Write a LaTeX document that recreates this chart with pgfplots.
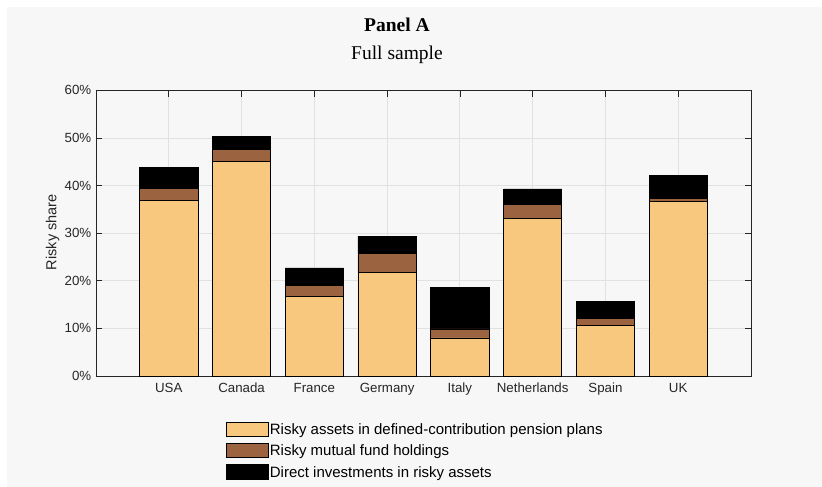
\documentclass[border=0pt]{standalone}
\usepackage{pgfplots}
\pgfplotsset{compat=1.18}
\usepackage{fontspec}
\setmainfont{Liberation Sans}
\newfontfamily\titlefont{Liberation Serif}
\definecolor{bgc}{HTML}{F7F7F7}
\definecolor{pens}{HTML}{F8C87F}
\definecolor{mutf}{HTML}{9C6340}
\definecolor{txt}{HTML}{262626}
\definecolor{gridc}{HTML}{E1E1E1}
\begin{document}
\begin{tikzpicture}
\path[use as bounding box] (-96bp,-111bp) rectangle (726bp,376bp);
\fill[bgc] (-89bp,-111bp) rectangle (726bp,369bp);
\node[anchor=base, inner sep=0pt, text=black] at (301bp,344.3bp) {\titlefont\bfseries\fontsize{19.5bp}{23bp}\selectfont Panel A};
\node[anchor=base, inner sep=0pt, text=black] at (301bp,316bp) {\titlefont\fontsize{19.5bp}{23bp}\selectfont Full sample};
\begin{axis}[
  scale only axis,
  width=655bp, height=285.7bp,
  xmin=0, xmax=9, ymin=0, ymax=60,
  ybar stacked, bar width=0.8,
  xtick={1,2,3,4,5,6,7,8},
  xticklabels={USA,Canada,France,Germany,Italy,Netherlands,Spain,UK},
  ytick={0,10,20,30,40,50,60},
  yticklabel={\pgfmathprintnumber{\tick}\%},
  /pgf/number format/assume math mode=true,
  tick align=inside,
  major tick length=6.5bp,
  tick style={draw=txt, line width=0.6bp},
  xmajorgrids, ymajorgrids,
  grid style={draw=gridc, line width=0.8bp},
  axis line style={draw=txt, line width=0.8bp},
  ticklabel style={font=\fontsize{13.3bp}{16bp}\selectfont, text=txt},
  yticklabel style={inner sep=0pt, xshift=-4.5bp},
  xticklabel style={inner sep=0pt, yshift=-7bp},
  ylabel={Risky share},
  ylabel style={at={(axis description cs:-0.0606,0.5035)}, anchor=base, font=\fontsize{14.5bp}{17bp}\selectfont, text=txt},
  legend style={draw=none, fill=none, at={(axis description cs:0.1985,-0.1598)}, anchor=north west,
    inner sep=0pt, outer sep=0pt, row sep=6.4bp,
    font=\fontsize{15bp}{18bp}\selectfont, text=black,
    nodes={inner sep=0pt, text height=12.6bp, text depth=1.7bp},
    /tikz/every odd column/.append style={column sep=1.8bp}},
  legend cell align=left,
  legend image code/.code={\draw[#1, draw=black, line width=0.6bp] (0bp,-7.15bp) rectangle (41.5bp,7.15bp);},
]
\addplot[fill=pens, draw=black, line width=0.7bp] coordinates {(1,36.8) (2,45.1) (3,16.7) (4,21.7) (5,8.0) (6,33.1) (7,10.6) (8,36.7)};
\addlegendentry{Risky assets in defined-contribution pension plans}
\addplot[fill=mutf, draw=black, line width=0.7bp] coordinates {(1,2.6) (2,2.5) (3,2.3) (4,4.1) (5,1.9) (6,2.9) (7,1.5) (8,0.6)};
\addlegendentry{Risky mutual fund holdings}
\addplot[fill=black, draw=black, line width=0.7bp] coordinates {(1,4.4) (2,2.8) (3,3.7) (4,3.5) (5,8.7) (6,3.3) (7,3.6) (8,4.9)};
\addlegendentry{Direct investments in risky assets}
\end{axis}
\end{tikzpicture}
\end{document}
